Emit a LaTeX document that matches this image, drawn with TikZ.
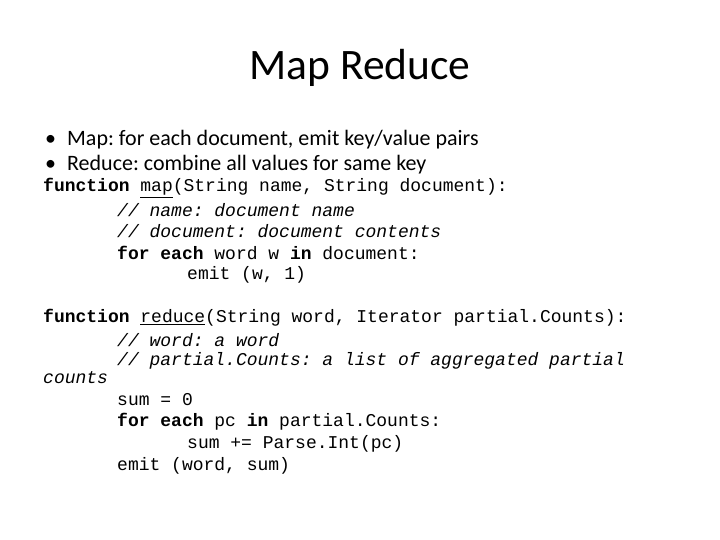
\documentclass[tikz,border=0pt]{standalone}
\usepackage{fontspec}
\setmainfont{Carlito}
\newfontfamily\codef{Liberation Mono}
\begin{document}
\frenchspacing
\begin{tikzpicture}[x=1pt,y=-1pt,
  code/.style={anchor=west,inner sep=0pt,font=\codef\fontsize{18}{21}\selectfont\frenchspacing},
  bul/.style={anchor=west,inner sep=0pt,font=\fontsize{22}{26}\selectfont}]
\useasboundingbox[fill=white] (0,0) rectangle (720,540);
\node[anchor=center,font=\fontsize{43.5}{50}\selectfont] (title) at (360,68) {Map Reduce};
\node[bul] (b1) at (45,140) {•\hspace{11pt}Map: for each document, emit key/value pairs};
\node[bul] (b2) at (45,165) {•\hspace{11pt}Reduce: combine all values for same key};
\node[code] (l1) at (43,188) {\textbf{function} \underline{map}(String name, String document):};
\node[code] (l2) at (117,210) {\textit{// name: document name}};
\node[code] (l3) at (117,231) {\textit{// document: document contents}};
\node[code] (l4) at (117,253) {\textbf{for each} word w \textbf{in} document:};
\node[code] (l5) at (187,275) {emit (w, 1)};
\node[code] (l7) at (43,318) {\textbf{function} \underline{reduce}(String word, Iterator partial.Counts):};
\node[code] (l8) at (117,340) {\textit{// word: a word}};
\node[code] (l9) at (117,361) {\textit{// partial.Counts: a list of aggregated partial}};
\node[code] (l10) at (43,378) {\textit{counts}};
\node[code] (l11) at (117,400) {sum = 0};
\node[code] (l12) at (117,422) {\textbf{for each} pc \textbf{in} partial.Counts:};
\node[code] (l13) at (187,444) {sum += Parse.Int(pc)};
\node[code] (l14) at (117,466) {emit (word, sum)};
\end{tikzpicture}
\end{document}
